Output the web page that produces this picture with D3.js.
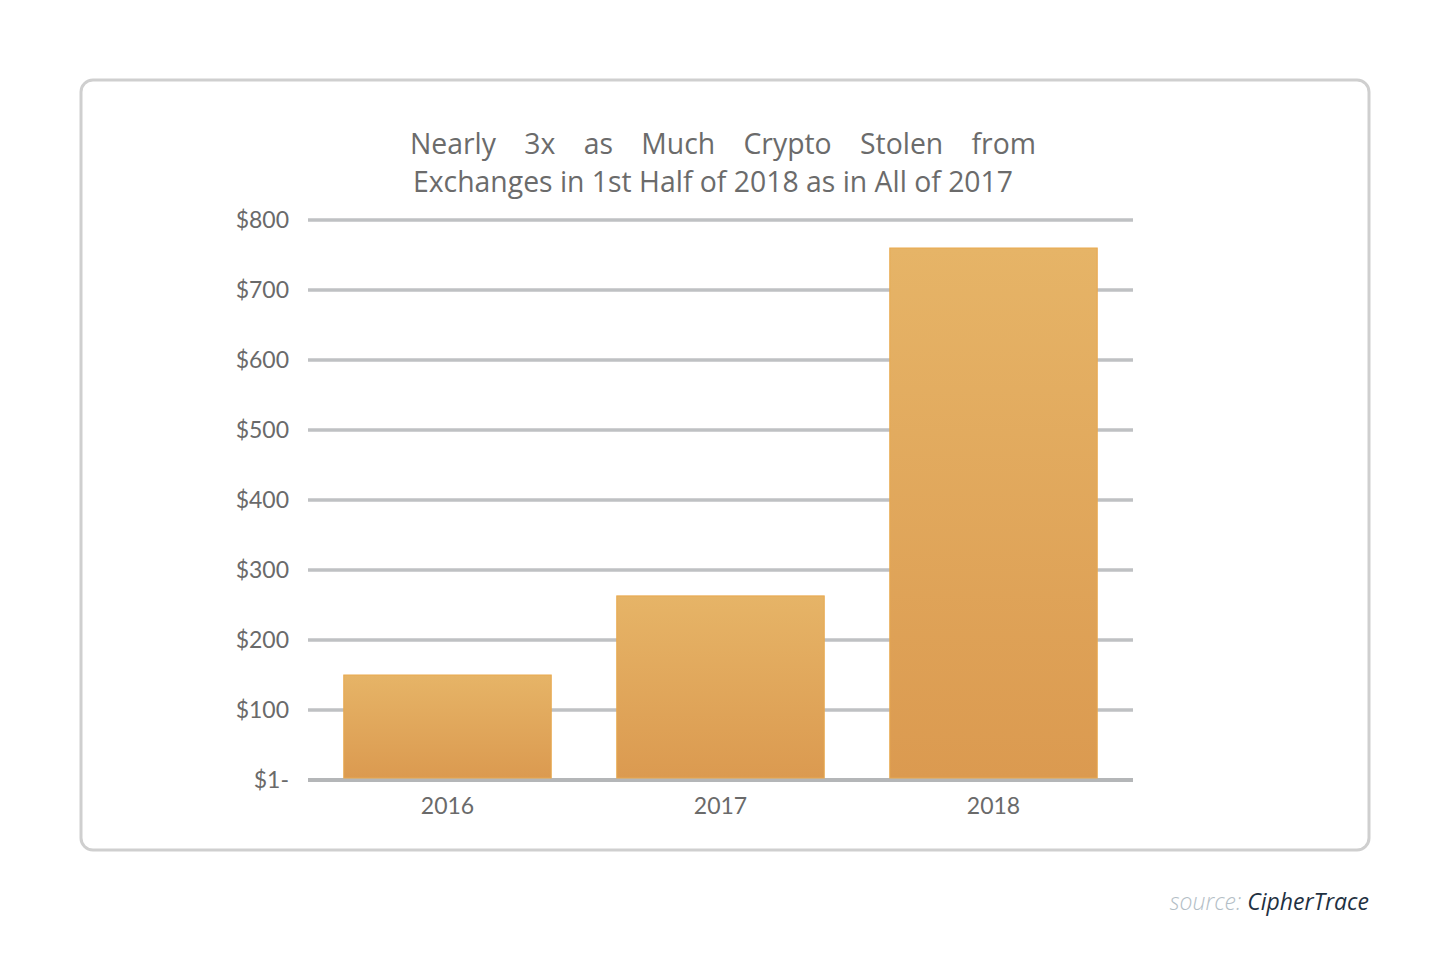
<!DOCTYPE html>
<html lang="en">
<head>
    <meta charset="UTF-8">
    <title>Crypto Stolen from Exchanges</title>
    <script src="https://d3js.org/d3.v7.min.js"></script>
    <style>
        body {
            margin: 0;
            padding: 0;
            background: #fff;
        }
        svg {
            display: block;
        }
    </style>
</head>
<body>
    <svg width="1450" height="970"></svg>

    <script>
        // data (USD millions)
        const years = ["2016", "2017", "2018"];
        const stolen = [150, 263, 760];
        const tickValues = [0, 100, 200, 300, 400, 500, 600, 700, 800];
        const tickLabels = ["$1-", "$100", "$200", "$300", "$400", "$500", "$600", "$700", "$800"];
        const titleLines = ["Nearly 3x as Much Crypto Stolen from", "Exchanges in 1st Half of 2018 as in All of 2017"];

        const svg = d3.select("svg");

        // frame
        svg.append("rect")
            .attr("x", 81).attr("y", 80)
            .attr("width", 1288).attr("height", 770)
            .attr("rx", 12)
            .attr("fill", "#fff")
            .attr("stroke", "#cfcfcf")
            .attr("stroke-width", 3);

        const x = d3.scaleBand()
            .domain(years)
            .range([308, 1133])
            .paddingInner(0.24)
            .paddingOuter(0.131);

        const y = d3.scaleLinear()
            .domain([0, 800])
            .range([780, 220]);

        const defs = svg.append("defs");
        const grad = defs.append("linearGradient")
            .attr("id", "barGrad")
            .attr("x1", 0).attr("y1", 0).attr("x2", 0).attr("y2", 1);
        grad.append("stop").attr("offset", "0%").attr("stop-color", "#e6b467");
        grad.append("stop").attr("offset", "100%").attr("stop-color", "#db9a50");

        // gridlines
        svg.append("g")
            .selectAll("line")
            .data(tickValues)
            .join("line")
            .attr("x1", 308).attr("x2", 1133)
            .attr("y1", d => y(d)).attr("y2", d => y(d))
            .attr("stroke", d => d === 0 ? "#b4b6b8" : "#bfc1c3")
            .attr("stroke-width", d => d === 0 ? 4 : 3.5);

        // y labels
        const yAxis = d3.axisLeft(y)
            .tickValues(tickValues)
            .tickFormat((d, i) => tickLabels[i])
            .tickSize(0)
            .tickPadding(0);
        const yg = svg.append("g")
            .attr("transform", "translate(289,0)")
            .call(yAxis);
        yg.select(".domain").remove();
        yg.selectAll("text")
            .attr("font-family", "Lato, 'Open Sans', sans-serif")
            .attr("font-size", 23)
            .attr("fill", "#6a6a6a");

        // bars
        svg.append("g")
            .selectAll("rect")
            .data(stolen)
            .join("rect")
            .attr("x", (d, i) => x(years[i]))
            .attr("y", d => y(d))
            .attr("width", x.bandwidth())
            .attr("height", d => y(0) - 2 - y(d))
            .attr("fill", "url(#barGrad)")
            .attr("stroke", "#e9a94f")
            .attr("stroke-width", 1);

        // x labels
        const xAxis = d3.axisBottom(x).tickSize(0).tickPadding(0);
        const xg = svg.append("g")
            .attr("transform", "translate(0,798)")
            .call(xAxis);
        xg.select(".domain").remove();
        xg.selectAll("text")
            .attr("font-family", "Lato, 'Open Sans', sans-serif")
            .attr("font-size", 23)
            .attr("fill", "#6a6a6a");

        // title: second line squeezed to width, first line justified word by word
        const titleFont = "'Open Sans', sans-serif";
        const line2 = svg.append("text")
            .attr("x", 413).attr("y", 192)
            .attr("font-family", titleFont)
            .attr("font-size", 29)
            .attr("fill", "#6b6b6b")
            .text(titleLines[1]);
        const squeeze = 600 / line2.node().getComputedTextLength();
        line2.attr("textLength", 600).attr("lengthAdjust", "spacingAndGlyphs");

        const words = titleLines[0].split(" ");
        const wordNodes = words.map(w => svg.append("text")
            .attr("font-family", titleFont)
            .attr("font-size", 29)
            .attr("fill", "#6b6b6b")
            .text(w));
        const widths = wordNodes.map(n => n.node().getComputedTextLength() * squeeze);
        const gap = (626 - d3.sum(widths)) / (words.length - 1);
        let cx = 410;
        wordNodes.forEach((n, i) => {
            n.attr("transform", `translate(${cx},154) scale(${squeeze},1)`);
            cx += widths[i] + gap;
        });

        // source
        const src = svg.append("text")
            .attr("x", 1369).attr("y", 910)
            .attr("text-anchor", "end")
            .attr("font-family", "'Open Sans', sans-serif")
            .attr("font-style", "italic")
            .attr("font-size", 23);
        src.append("tspan").attr("fill", "#b3bec6").attr("font-weight", 300).text("source: ");
        src.append("tspan").attr("fill", "#1f3142").text("CipherTrace");
    </script>
</body>
</html>
